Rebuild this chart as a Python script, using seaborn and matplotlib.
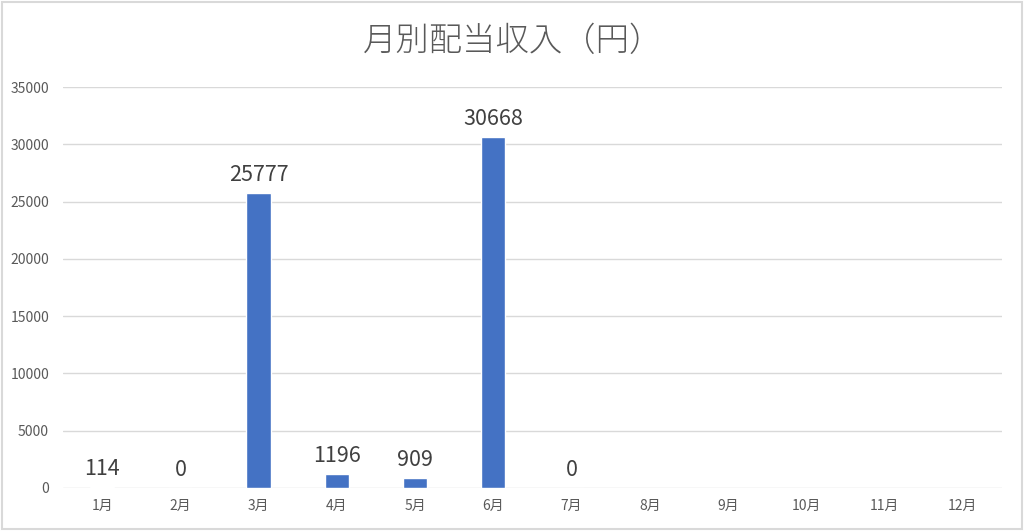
import numpy as np
import pandas as pd
import seaborn as sns
import matplotlib.pyplot as plt
from matplotlib.patches import Rectangle

months = ['1月', '2月', '3月', '4月', '5月', '6月', '7月', '8月', '9月', '10月', '11月', '12月']
income = [114, 0, 25777, 1196, 909, 30668, 0, np.nan, np.nan, np.nan, np.nan, np.nan]
y_ticks = [0, 5000, 10000, 15000, 20000, 25000, 30000, 35000]

df = pd.DataFrame({'month': months, 'income': income})

sns.set_theme(style='white')
plt.rcParams['font.family'] = ['Noto Sans CJK JP', 'DejaVu Sans']

fig = plt.figure(figsize=(10.24, 5.31), dpi=100)
ax = fig.add_axes([0.0615, 0.081, 0.917, 0.755])

sns.barplot(data=df, x='month', y='income', color='#4472C4', width=0.31,
            saturation=1, ax=ax)

# grid + axes styling
ax.set_ylim(0, 35000)
ax.set_yticks(y_ticks)
ax.set_xlim(-0.5, len(months) - 0.5)
ax.yaxis.grid(True, color='#D9D9D9', linewidth=1)
ax.set_axisbelow(True)
for s in ax.spines.values():
    s.set_visible(False)
ax.tick_params(axis='both', length=0, labelsize=10, labelcolor='#595959')
ax.tick_params(axis='y', pad=10)
ax.tick_params(axis='x', pad=8)
ax.set_xlabel('')
ax.set_ylabel('')

# data labels
for i, v in enumerate(income):
    if np.isnan(v):
        continue
    ax.annotate(f'{int(v)}', xy=(i, v), xytext=(0, 5), textcoords='offset points',
                ha='center', va='bottom', fontsize=15.5, color='#404040')

fig.text(0.501, 0.922, '月別配当収入（円）', ha='center', va='center',
         fontsize=24, color='#595959', fontweight='light')

# chart border
fig.patches.append(Rectangle((0.002, 0.003), 0.996, 0.994, transform=fig.transFigure,
                             fill=False, edgecolor='#D9D9D9', linewidth=1.5))

fig.savefig('out.png', dpi=100)
